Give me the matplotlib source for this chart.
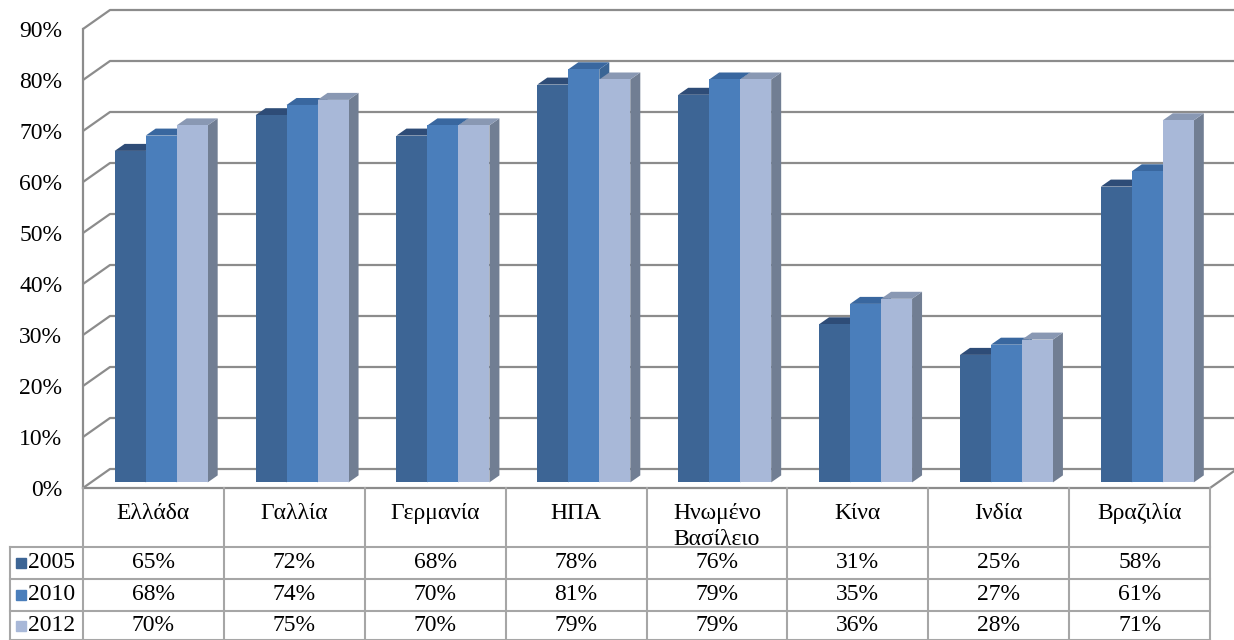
import numpy as np
import matplotlib
matplotlib.use('Agg')
import matplotlib.pyplot as plt
from matplotlib.patches import Polygon

plt.rcParams['font.family'] = ['Liberation Serif', 'DejaVu Serif']

countries = ['Ελλάδα', 'Γαλλία', 'Γερμανία', 'ΗΠΑ', 'Ηνωμένο\nΒασίλειο',
             'Κίνα', 'Ινδία', 'Βραζιλία']
years = ['2005', '2010', '2012']
v2005 = [65, 72, 68, 78, 76, 31, 25, 58]
v2010 = [68, 74, 70, 81, 79, 35, 27, 61]
v2012 = [70, 75, 70, 79, 79, 36, 28, 71]
series = [v2005, v2010, v2012]

front_c = ['#3d6595', '#4a7ebb', '#a8b8d8']
top_c = ['#2e4c77', '#39679f', '#8998b3']
side_c = ['#2f4d73', '#3a6595', '#717e93']
grid_c = '#8c8c8c'
table_c = '#a6a6a6'
fs = 17

W, H = 1234, 640
fig = plt.figure(figsize=(W / 100, H / 100), dpi=100)
# front plane of the plot: x 83..1210 px, 0%..90% at 488..29 px
ax = fig.add_axes([83 / W, (H - 488) / H, (1210 - 83) / W, (488 - 29) / H])
ax.set_xlim(0, 8)
ax.set_ylim(0, 90)
px_x = 8 / (1210 - 83)      # data units per pixel
px_y = 90 / (488 - 29)

# wall depth and bar depth
wdx, wdy = 27 * px_x, 19 * px_y
bdx, bdy = 10 * px_x, 7 * px_y
base = 1.1
bw = 0.22
x_end = (W - 83) * px_x

ticks = np.arange(0, 91, 10)
for t in ticks:
    ax.plot([0, wdx, x_end], [t, t + wdy, t + wdy], color=grid_c, lw=1.6,
            clip_on=False, zorder=1, solid_capstyle='butt')
# floor front edge and right edge
ax.plot([0, 8, 8 + wdx], [0, 0, wdy], color=grid_c, lw=1.6, clip_on=False, zorder=1)
ax.plot([0, 0], [0, 90], color=grid_c, lw=1.6, clip_on=False, zorder=1)

for i in range(len(countries)):
    for k, vals in enumerate(series):
        x0 = i + 0.225 + k * bw
        x1 = x0 + bw
        top = vals[i] + base
        z = 3 + k * 0.1
        side = Polygon([(x1, base), (x1 + bdx, base + bdy), (x1 + bdx, top + bdy), (x1, top)],
                       closed=True, facecolor=side_c[k], edgecolor='none', zorder=z)
        cap = Polygon([(x0, top), (x1, top), (x1 + bdx, top + bdy), (x0 + bdx, top + bdy)],
                      closed=True, facecolor=top_c[k], edgecolor='none', zorder=z)
        ax.add_patch(side)
        ax.add_patch(cap)
        ax.bar(x0, vals[i], width=bw, bottom=base, align='edge', color=front_c[k],
               edgecolor='none', zorder=z + 0.05)

ax.set_yticks(ticks)
ax.set_yticklabels([f'{t}%' for t in ticks], fontsize=fs)
ax.tick_params(axis='y', length=0, pad=15)
ax.set_xticks([])
for s in ax.spines.values():
    s.set_visible(False)
ax.patch.set_visible(False)

# data table under the plot
y_head = -11.57
row_edges = [y_head, -17.84, -24.12, -29.9]
x_left = (10 - 83) * px_x
lkw = dict(color=table_c, lw=1.5, clip_on=False, zorder=2)
for c in range(1, 9):
    ax.plot([c, c], [0, row_edges[-1]], **lkw)
ax.plot([0, 0], [0, row_edges[-1]], **lkw)
ax.plot([x_left, x_left], [y_head, row_edges[-1]], **lkw)
for y in row_edges:
    ax.plot([x_left, 8], [y, y], **lkw)

for i, name in enumerate(countries):
    ax.text(i + 0.5, -2.9, name, ha='center', va='top', fontsize=fs,
            linespacing=1.3, clip_on=False)

for k, vals in enumerate(series):
    yc = (row_edges[k] + row_edges[k + 1]) / 2
    ax.plot([(21 - 83) * px_x], [yc], marker='s', ms=7.5, color=front_c[k],
            clip_on=False, zorder=4)
    ax.text((28 - 83) * px_x, yc, years[k], ha='left', va='center', fontsize=fs,
            clip_on=False)
    for i, v in enumerate(vals):
        ax.text(i + 0.5, yc, f'{v}%', ha='center', va='center', fontsize=fs,
                clip_on=False)

fig.savefig('out.png', dpi=100)
